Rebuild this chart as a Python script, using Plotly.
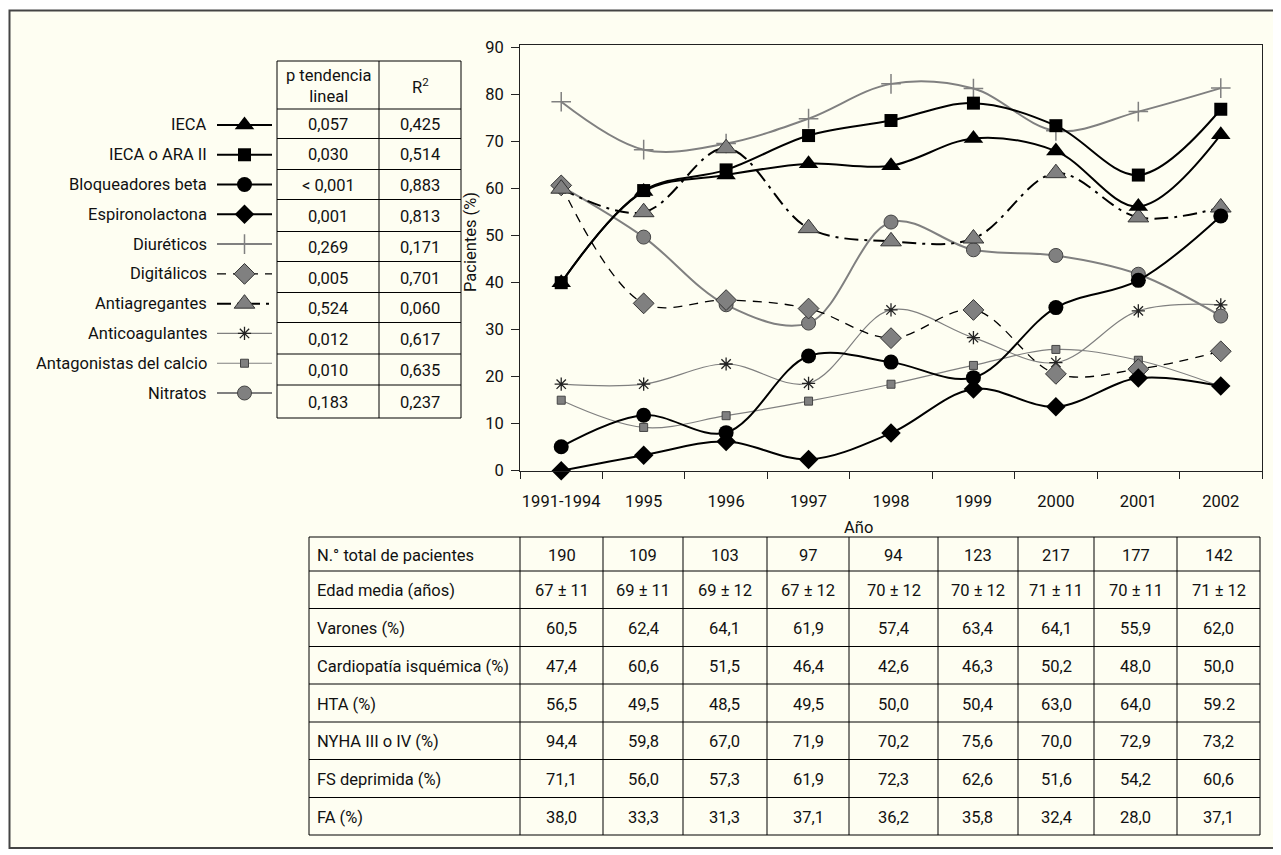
import plotly.graph_objects as go

W, H = 1281, 855
OFF = 8  # the page body margin shifts the figure by 8 px
FONT = "Roboto, Liberation Sans, sans-serif"
FS = 16.5
BG = "#fefef2"
GRAY = "#808080"
TXT = "#111"

# ---------------- data ----------------
years = ["1991-1994", "1995", "1996", "1997", "1998", "1999", "2000", "2001", "2002"]

ieca = [40, 59.4, 62.9, 65.3, 64.9, 70.7, 68.0, 56.2, 71.5]
ieca_ara = [40, 59.6, 64.0, 71.3, 74.5, 78.2, 73.4, 62.9, 76.9]
bloqueadores = [5.1, 11.8, 8.1, 24.4, 23.1, 19.8, 34.7, 40.5, 54.2]
espironolactona = [0, 3.3, 6.2, 2.4, 8.0, 17.4, 13.6, 19.7, 18.0]
diureticos = [78.5, 68.3, 69.6, 74.9, 82.3, 81.3, 72.3, 76.4, 81.4]
digitalicos = [60.7, 35.6, 36.3, 34.5, 28.2, 34.2, 20.6, 21.6, 25.4]
antiagregantes = [60.0, 55.0, 68.6, 51.6, 48.8, 49.4, 63.3, 53.9, 56.0]
anticoagulantes = [18.4, 18.4, 22.7, 18.6, 34.2, 28.3, 23.0, 34.0, 35.3]
calcio = [15.0, 9.2, 11.7, 14.8, 18.4, 22.4, 25.8, 23.5, 17.9]
nitratos = [60.5, 49.7, 35.3, 31.4, 52.9, 47.0, 45.8, 41.8, 32.9]

series_names = ["IECA", "IECA o ARA II", "Bloqueadores beta", "Espironolactona", "Diuréticos",
                "Digitálicos", "Antiagregantes", "Anticoagulantes", "Antagonistas del calcio", "Nitratos"]
p_tendencia = ["0,057", "0,030", "< 0,001", "0,001", "0,269", "0,005", "0,524", "0,012", "0,010", "0,183"]
r2 = ["0,425", "0,514", "0,883", "0,813", "0,171", "0,701", "0,060", "0,617", "0,635", "0,237"]
legend_header = ["p tendencia<br>lineal", "R<sup>2</sup>"]

row_labels = ["N.° total de pacientes", "Edad media (años)", "Varones (%)", "Cardiopatía isquémica (%)",
              "HTA (%)", "NYHA III o IV (%)", "FS deprimida (%)", "FA (%)"]
total_pacientes = ["190", "109", "103", "97", "94", "123", "217", "177", "142"]
edad_media = ["67 ± 11", "69 ± 11", "69 ± 12", "67 ± 12", "70 ± 12", "70 ± 12", "71 ± 11", "70 ± 11", "71 ± 12"]
varones = ["60,5", "62,4", "64,1", "61,9", "57,4", "63,4", "64,1", "55,9", "62,0"]
cardiopatia = ["47,4", "60,6", "51,5", "46,4", "42,6", "46,3", "50,2", "48,0", "50,0"]
hta = ["56,5", "49,5", "48,5", "49,5", "50,0", "50,4", "63,0", "64,0", "59.2"]
nyha = ["94,4", "59,8", "67,0", "71,9", "70,2", "75,6", "70,0", "72,9", "73,2"]
fs_deprimida = ["71,1", "56,0", "57,3", "61,9", "72,3", "62,6", "51,6", "54,2", "60,6"]
fa = ["38,0", "33,3", "31,3", "37,1", "36,2", "35,8", "32,4", "28,0", "37,1"]
table_rows = [total_pacientes, edad_media, varones, cardiopatia, hta, nyha, fs_deprimida, fa]

# ---------------- styles ----------------
styles = {
    "IECA": dict(line=dict(color="black", width=2), marker=dict(symbol="triangle-up", size=17, color="black")),
    "IECA o ARA II": dict(line=dict(color="black", width=2), marker=dict(symbol="square", size=13, color="black")),
    "Bloqueadores beta": dict(line=dict(color="black", width=2), marker=dict(symbol="circle", size=15, color="black")),
    "Espironolactona": dict(line=dict(color="black", width=2), marker=dict(symbol="diamond", size=15, color="black")),
    "Diuréticos": dict(line=dict(color=GRAY, width=2),
                       marker=dict(symbol="cross-thin-open", size=14, color=GRAY, line=dict(color=GRAY, width=1.5))),
    "Digitálicos": dict(line=dict(color="black", width=1.3, dash="9px,7px"),
                        marker=dict(symbol="diamond", size=16, color=GRAY, line=dict(color="#333", width=1))),
    "Antiagregantes": dict(line=dict(color="black", width=2, dash="14px,6px,3px,6px"),
                           marker=dict(symbol="triangle-up", size=18, color=GRAY, line=dict(color="#333", width=1))),
    "Anticoagulantes": dict(line=dict(color=GRAY, width=1.2),
                            marker=dict(symbol="asterisk-open", size=11, color="#222", line=dict(color="#222", width=1.3))),
    "Antagonistas del calcio": dict(line=dict(color=GRAY, width=1.2),
                                    marker=dict(symbol="square", size=8, color=GRAY, line=dict(color="#444", width=1))),
    "Nitratos": dict(line=dict(color=GRAY, width=2),
                     marker=dict(symbol="circle", size=14, color=GRAY, line=dict(color="#444", width=1))),
}
values = {
    "IECA": ieca, "IECA o ARA II": ieca_ara, "Bloqueadores beta": bloqueadores,
    "Espironolactona": espironolactona, "Diuréticos": diureticos, "Digitálicos": digitalicos,
    "Antiagregantes": antiagregantes, "Anticoagulantes": anticoagulantes,
    "Antagonistas del calcio": calcio, "Nitratos": nitratos,
}
draw_order = ["Antagonistas del calcio", "Anticoagulantes", "Nitratos", "Diuréticos", "Digitálicos",
              "Antiagregantes", "Espironolactona", "Bloqueadores beta", "IECA o ARA II", "IECA"]


def px(x):
    return (x - OFF) / W


def py(y):
    return 1 - (y - OFF) / H


fig = go.Figure()

for name in draw_order:
    st = styles[name]
    fig.add_trace(go.Scatter(
        x=years, y=values[name], mode="lines+markers", name=name,
        line=dict(shape="spline", smoothing=1, **st["line"]),
        marker=st["marker"], cliponaxis=False, showlegend=False,
        xaxis="x", yaxis="y"))

# legend samples on a hidden axis
for i, name in enumerate(series_names):
    st = styles[name]
    fig.add_trace(go.Scatter(
        x=[0, 0.5, 1], y=[i, i, i], mode="lines+markers",
        line=dict(shape="linear", **st["line"]),
        marker=dict(st["marker"], opacity=[0, 1, 0]),
        cliponaxis=False, showlegend=False, xaxis="x2", yaxis="y2", hoverinfo="skip"))

shapes = [dict(type="rect", xref="paper", yref="paper", x0=px(9.5), x1=px(1284), y0=py(848), y1=py(10.5),
               line=dict(color="#444", width=2), fillcolor=BG, layer="below")]
annotations = []


def draw_grid(x_edges, y_edges):
    for y in y_edges:
        shapes.append(dict(type="line", xref="paper", yref="paper", x0=px(x_edges[0]), x1=px(x_edges[-1]),
                           y0=py(y), y1=py(y), line=dict(color="black", width=1)))
    for x in x_edges:
        shapes.append(dict(type="line", xref="paper", yref="paper", x0=px(x), x1=px(x),
                           y0=py(y_edges[0]), y1=py(y_edges[-1]), line=dict(color="black", width=1)))


def cell_text(text, x0, x1, y0, y1, align="center"):
    if align == "left":
        x, anchor = x0 + 6, "left"
    else:
        x, anchor = (x0 + x1) / 2, "center"
    annotations.append(dict(text=text, xref="paper", yref="paper", x=px(x), y=py((y0 + y1) / 2 + 1),
                            xanchor=anchor, yanchor="middle", showarrow=False,
                            font=dict(family=FONT, size=FS, color=TXT)))


# legend table
lx = [277, 379, 461]
ly = [61, 109, 138.5, 169.5, 199.5, 231.5, 261.5, 292.5, 322.5, 354, 385, 418]
draw_grid(lx, ly)
for c in range(2):
    cell_text(legend_header[c], lx[c], lx[c + 1], ly[0], ly[1])
for r in range(len(series_names)):
    cell_text(p_tendencia[r], lx[0], lx[1], ly[r + 1], ly[r + 2])
    cell_text(r2[r], lx[1], lx[2], ly[r + 1], ly[r + 2])

# bottom table
bx = [309, 520, 603, 683, 767, 849, 938, 1018, 1094, 1177, 1260]
by = [537, 571, 608.5, 646.5, 684, 722, 759.5, 797.5, 835]
draw_grid(bx, by)
for r, lab in enumerate(row_labels):
    cell_text(lab, bx[0], bx[1], by[r], by[r + 1], align="left")
    for c, v in enumerate(table_rows[r]):
        cell_text(v, bx[c + 1], bx[c + 2], by[r], by[r + 1])

# legend labels
for i, name in enumerate(series_names):
    annotations.append(dict(text=name, xref="paper", yref="y2", x=px(209), y=i,
                            xanchor="right", yanchor="middle", showarrow=False,
                            font=dict(family=FONT, size=FS, color=TXT)))
annotations.append(dict(text="Pacientes (%)", xref="paper", yref="paper", x=px(471), y=py(242),
                        textangle=-90, showarrow=False, xanchor="center", yanchor="middle",
                        font=dict(family=FONT, size=FS, color=TXT)))
annotations.append(dict(text="Año", xref="paper", yref="paper", x=px(858), y=py(527),
                        showarrow=False, xanchor="center", yanchor="middle",
                        font=dict(family=FONT, size=FS, color=TXT)))

fig.update_layout(
    template="none",
    width=W, height=H, margin=dict(l=0, r=0, t=0, b=0, pad=0), autosize=False,
    paper_bgcolor="white", plot_bgcolor="rgba(0,0,0,0)",
    font=dict(family=FONT, size=FS, color=TXT),
    xaxis=dict(domain=[px(520), px(1262)], type="category", range=[-0.5, 8.5],
               showline=True, linecolor="#222", linewidth=1, mirror=True,
               ticks="outside", ticklen=7, tickcolor="#222", tickson="boundaries",
               showgrid=False, zeroline=False, ticklabelstandoff=15, tickangle=0, automargin=False,
               tickfont=dict(family=FONT, size=FS, color=TXT)),
    yaxis=dict(domain=[py(470.7), py(45)], range=[0, 90.57], dtick=10, tick0=0,
               showline=True, linecolor="#222", linewidth=1, mirror=True,
               ticks="outside", ticklen=8, tickcolor="#222", automargin=False,
               showgrid=False, zeroline=False, ticklabelstandoff=4,
               tickfont=dict(family=FONT, size=FS, color=TXT)),
    xaxis2=dict(domain=[px(217), px(272)], range=[0, 1], visible=False, fixedrange=True, automargin=False),
    yaxis2=dict(domain=[py(407.9), py(110.1)], range=[9.5, -0.5], visible=False, fixedrange=True,
                automargin=False),
    annotations=annotations,
    shapes=shapes,
)

fig.write_html("out.html")
